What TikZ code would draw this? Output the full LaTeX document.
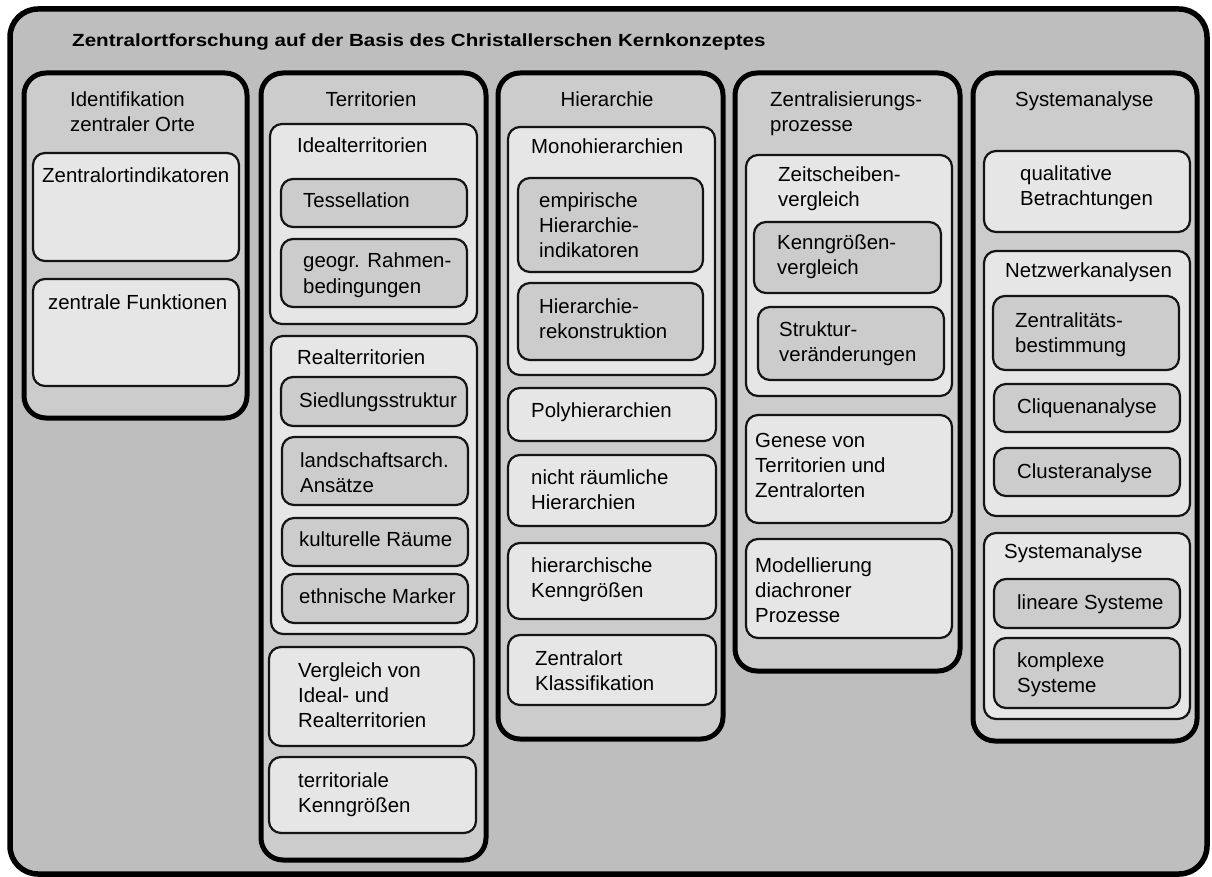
\documentclass[tikz,border=0pt]{standalone}
\usepackage{fontspec}
\setmainfont{Liberation Sans}
\newfontfamily\titlefont[FakeStretch=1.17]{Liberation Sans}
\definecolor{bgout}{gray}{0.745}
\definecolor{bgcol}{gray}{0.8}
\definecolor{bglight}{gray}{0.902}
\definecolor{bgdark}{gray}{0.8}
\definecolor{edge}{gray}{0.08}
\newcommand\ml[1]{\begin{tabular}[t]{@{}l@{}}#1\end{tabular}}
\newcommand\bx[6]{\node[#1, anchor=north west, minimum width=#5-#3, minimum height=#6-#4] (#2) at (#3,#4) {};}
\tikzset{
  base/.style={inner sep=0pt, outer sep=0pt, rectangle},
  outerbox/.style={base, draw=black, line width=5.5pt, rounded corners=28pt, fill=bgout},
  colbox/.style={base, draw=black, line width=5pt, rounded corners=22pt, fill=bgcol},
  lbox/.style={base, draw=edge, line width=2.2pt, rounded corners=12pt, fill=bglight},
  dbox/.style={base, draw=edge, line width=2.2pt, rounded corners=12pt, fill=bgdark},
  txt/.style={inner sep=0pt, anchor=base west, font=\fontsize{20.4}{25}\selectfont},
  ctxt/.style={inner sep=0pt, anchor=base, font=\fontsize{20.4}{25}\selectfont},
  ttl/.style={inner sep=0pt, anchor=base west, font=\titlefont\fontsize{17.6}{22}\selectfont\bfseries}
}
\begin{document}
\begin{tikzpicture}[x=1pt,y=-1pt]
\useasboundingbox (0,0) rectangle (1212,877);
\bx{outerbox}{outer}{10}{9}{1207}{874}
\node[ttl] (title) at (72,47) {Zentralortforschung auf der Basis des Christallerschen Kernkonzeptes};
% columns
\bx{colbox}{c1}{24}{73}{247}{418}
\bx{colbox}{c2}{261}{73}{486}{860}
\bx{colbox}{c3}{498}{73}{723}{739}
\bx{colbox}{c4}{735}{73}{960}{671}
\bx{colbox}{c5}{973}{73}{1197}{741}
% column 1
\node[txt] (t1) at (70,107) {\ml{Identifikation\\zentraler Orte}};
\bx{lbox}{b11}{33}{153}{239}{261}
\node[txt] (t11) at (42,183) {Zentralortindikatoren};
\bx{lbox}{b12}{33}{279}{239}{386}
\node[txt] (t12) at (48,309) {zentrale Funktionen};
% column 2
\node[ctxt] (t2) at (371,107) {Territorien};
\bx{lbox}{ideal}{270}{124}{477}{324}
\node[txt] (tideal) at (297,153) {Idealterritorien};
\bx{dbox}{tess}{281}{179}{467}{227}
\node[txt] (ttess) at (303,208) {Tessellation};
\bx{dbox}{geogr}{281}{239}{467}{307}
\node[txt] (tgeogr) at (303,268) {\ml{geogr. Rahmen-\\bedingungen}};
\bx{lbox}{real}{271}{336}{477}{634}
\node[txt] (treal) at (297,364) {Realterritorien};
\bx{dbox}{sied}{281}{377}{467}{426}
\node[txt] (tsied) at (299,407) {Siedlungsstruktur};
\bx{dbox}{land}{282}{437}{468}{505}
\node[txt] (tland) at (300,467) {\ml{landschaftsarch.\\Ansätze}};
\bx{dbox}{kult}{282}{518}{468}{566}
\node[txt] (tkult) at (299,546) {kulturelle Räume};
\bx{dbox}{ethn}{282}{574}{468}{623}
\node[txt] (tethn) at (299,603) {ethnische Marker};
\bx{lbox}{vergl}{269}{647}{474}{746}
\node[txt] (tvergl) at (298,677) {\ml{Vergleich von\\Ideal- und\\Realterritorien}};
\bx{lbox}{terr}{269}{757}{476}{833}
\node[txt] (tterr) at (298,787) {\ml{territoriale\\Kenngrößen}};
% column 3
\node[ctxt] (t3) at (607,107) {Hierarchie};
\bx{lbox}{mono}{508}{127}{715}{375}
\node[txt] (tmono) at (531,154) {Monohierarchien};
\bx{dbox}{emp}{518}{178}{703}{272}
\node[txt] (temp) at (539,208) {\ml{empirische\\Hierarchie-\\indikatoren}};
\bx{dbox}{rek}{518}{283}{703}{360}
\node[txt] (trek) at (539,313) {\ml{Hierarchie-\\rekonstruktion}};
\bx{lbox}{poly}{508}{388}{716}{441}
\node[txt] (tpoly) at (531,417) {Polyhierarchien};
\bx{lbox}{nicht}{508}{455}{716}{526}
\node[txt] (tnicht) at (531,484) {\ml{nicht räumliche\\Hierarchien}};
\bx{lbox}{hier}{508}{543}{716}{619}
\node[txt] (thier) at (531,572) {\ml{hierarchische\\Kenngrößen}};
\bx{lbox}{zkl}{508}{635}{716}{705}
\node[txt] (tzkl) at (535,665) {\ml{Zentralort\\Klassifikation}};
% column 4
\node[txt] (t4) at (770,107) {\ml{Zentralisierungs-\\prozesse}};
\bx{lbox}{zeit}{746}{155}{952}{396}
\node[txt] (tzeit) at (778,182) {\ml{Zeitscheiben-\\vergleich}};
\bx{dbox}{kenn}{754}{222}{941}{293}
\node[txt] (tkenn) at (777,250) {\ml{Kenngrößen-\\vergleich}};
\bx{dbox}{struk}{758}{307}{944}{380}
\node[txt] (tstruk) at (779,336) {\ml{Struktur-\\veränderungen}};
\bx{lbox}{genese}{746}{415}{952}{523}
\node[txt] (tgenese) at (755,447) {\ml{Genese von\\Territorien und\\Zentralorten}};
\bx{lbox}{modell}{746}{539}{952}{638}
\node[txt] (tmodell) at (755,572) {\ml{Modellierung\\diachroner\\Prozesse}};
% column 5
\node[txt] (t5) at (1015,107) {Systemanalyse};
\bx{lbox}{qual}{984}{151}{1190}{232}
\node[txt] (tqual) at (1020,181) {\ml{qualitative\\Betrachtungen}};
\bx{lbox}{netz}{984}{251}{1190}{516}
\node[txt] (tnetz) at (1005,277) {Netzwerkanalysen};
\bx{dbox}{zentr}{993}{296}{1179}{370}
\node[txt] (tzentr) at (1015,327) {\ml{Zentralitäts-\\bestimmung}};
\bx{dbox}{cliq}{994}{384}{1180}{432}
\node[txt] (tcliq) at (1017,413) {Cliquenanalyse};
\bx{dbox}{clust}{994}{448}{1180}{496}
\node[txt] (tclust) at (1017,478) {Clusteranalyse};
\bx{lbox}{sys}{984}{533}{1190}{719}
\node[txt] (tsys) at (1004,558) {Systemanalyse};
\bx{dbox}{lin}{994}{579}{1180}{628}
\node[txt] (tlin) at (1017,609) {lineare Systeme};
\bx{dbox}{kompl}{994}{638}{1180}{708}
\node[txt] (tkompl) at (1017,667) {\ml{komplexe\\Systeme}};
\end{tikzpicture}
\end{document}
